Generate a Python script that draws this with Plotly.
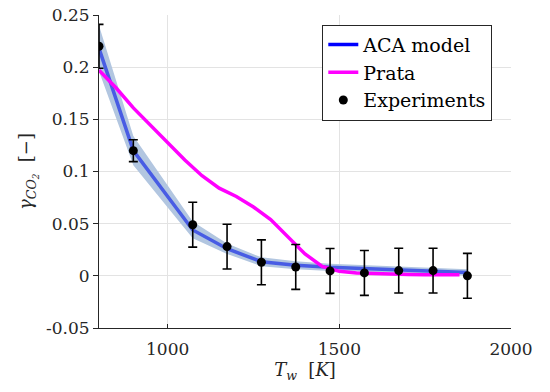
import plotly.graph_objects as go

# ---------------- data ----------------
T_exp = [800, 900, 1073, 1173, 1273, 1373, 1473, 1573, 1673, 1773, 1873]
gamma_exp = [0.220, 0.120, 0.049, 0.028, 0.013, 0.0085, 0.0047, 0.0028, 0.005, 0.005, 0.0]
gamma_err = [0.021, 0.0105, 0.0215, 0.0215, 0.0215, 0.0215, 0.0215, 0.0215, 0.0215, 0.0215, 0.0215]

T_aca = [800, 900, 1073, 1173, 1273, 1373, 1473, 1573, 1673, 1773, 1873]
gamma_aca = [0.218, 0.120, 0.044, 0.026, 0.0135, 0.0102, 0.0082, 0.0071, 0.0060, 0.0047, 0.0032]
gamma_aca_unc = [0.022, 0.014, 0.008, 0.005, 0.0042, 0.0038, 0.0035, 0.0033, 0.0032, 0.0031, 0.0030]

T_prata = [800, 850, 900, 950, 1000, 1050, 1100, 1150, 1200, 1250, 1300, 1350,
           1400, 1450, 1500, 1550, 1600, 1650, 1700, 1750, 1800, 1850]
gamma_prata = [0.197, 0.180, 0.161, 0.144, 0.128, 0.111, 0.096, 0.084, 0.076, 0.066,
               0.054, 0.037, 0.021, 0.009, 0.0043, 0.0028, 0.002, 0.0015, 0.0012,
               0.001, 0.001, 0.001]

x_ticks = [1000, 1500, 2000]
y_ticks = [-0.05, 0, 0.05, 0.1, 0.15, 0.2, 0.25]
y_ticktext = ["-0.05", "0", "0.05", "0.1", "0.15", "0.2", "0.25"]

FONT = "DejaVu Serif"
FS = 17
band_upper = [g + u for g, u in zip(gamma_aca, gamma_aca_unc)]
band_lower = [g - u for g, u in zip(gamma_aca, gamma_aca_unc)]

fig = go.Figure()

fig.add_trace(go.Scatter(
    x=T_aca + T_aca[::-1], y=band_upper + band_lower[::-1],
    fill="toself", fillcolor="rgb(178,198,224)", line=dict(width=0),
    mode="lines", hoverinfo="skip", showlegend=False))

fig.add_trace(go.Scatter(
    x=T_aca, y=gamma_aca, mode="lines",
    line=dict(color="rgb(72,92,228)", width=3.5),
    showlegend=False))

fig.add_trace(go.Scatter(
    x=[None], y=[None], mode="lines", name="ACA model",
    line=dict(color="#0000ff", width=3.5)))

fig.add_trace(go.Scatter(
    x=T_prata, y=gamma_prata, mode="lines", name="Prata",
    line=dict(color="#ff00ff", width=3.5)))

fig.add_trace(go.Scatter(
    x=T_exp, y=gamma_exp, mode="markers", name="Experiments",
    marker=dict(color="black", size=9),
    error_y=dict(type="data", array=gamma_err, visible=True,
                 color="black", thickness=1.6, width=4.5)))

fig.update_layout(
    width=550, height=392,
    margin=dict(l=99, r=39, t=15, b=64, autoexpand=False),
    paper_bgcolor="white", plot_bgcolor="white",
    font=dict(family=FONT, size=FS, color="#262626"),
    legend=dict(
        x=0.9546, xanchor="right", y=0.969, yanchor="top",
        bgcolor="white", bordercolor="#262626", borderwidth=1,
        font=dict(family=FONT, size=19, color="black"),
        tracegroupgap=0, itemwidth=30),
)

fig.update_xaxes(
    range=[800, 2000], tickvals=x_ticks,
    showgrid=True, gridcolor="#e3e3e3", gridwidth=1,
    showline=True, linecolor="#262626", linewidth=1,
    ticks="inside", ticklen=4, tickcolor="#262626",
    zeroline=False, ticklabelstandoff=6,
    title=dict(text="<i>T<sub>w</sub></i>  [<i>K</i>]", standoff=4,
               font=dict(family=FONT, size=18, color="#262626")),
)
fig.update_yaxes(
    range=[-0.05, 0.25], tickvals=y_ticks, ticktext=y_ticktext,
    showgrid=True, gridcolor="#e3e3e3", gridwidth=1,
    showline=True, linecolor="#262626", linewidth=1,
    ticks="outside", ticklen=5, tickcolor="#262626",
    zeroline=False,
    title=dict(text="<i>γ<sub>CO<sub>2</sub></sub></i>  [−]", standoff=8,
               font=dict(family=FONT, size=18, color="#262626")),
)

fig.write_html("out.html")
